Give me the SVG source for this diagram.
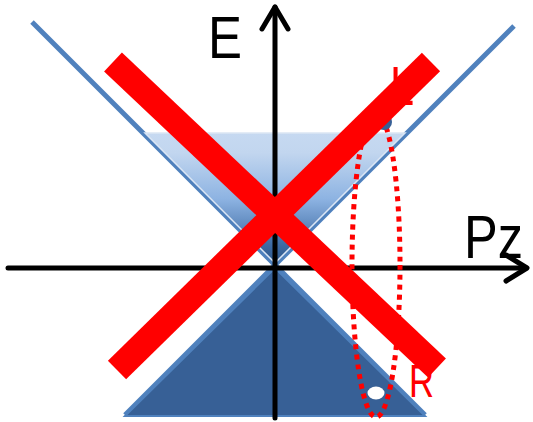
<svg xmlns="http://www.w3.org/2000/svg" width="533" height="422" viewBox="0 0 533 422">
<defs>
<linearGradient id="g" x1="0" y1="133" x2="0" y2="265" gradientUnits="userSpaceOnUse">
<stop offset="0" stop-color="#c6d9f1"/>
<stop offset="0.15" stop-color="#c2d6ef"/>
<stop offset="0.5" stop-color="#8db3e2"/>
<stop offset="0.85" stop-color="#3d6aa3"/>
<stop offset="1" stop-color="#2c5587"/>
</linearGradient>
</defs>
<style>
.cone{stroke:#4f81bd;stroke-width:5;fill:none}
.ax{stroke:#000;stroke-width:5;fill:none;stroke-linecap:round;stroke-linejoin:round}
.xr{stroke:#ff0000;stroke-width:26;fill:none}
.lbl{font-family:"Liberation Sans",Arial,sans-serif}
</style>
<g id="cone">
<line class="cone" x1="32" y1="22" x2="425" y2="415"/>
<line class="cone" x1="514" y1="26" x2="125" y2="415"/>
<polygon points="145,133 405,133 275,263" fill="url(#g)" stroke="#dbe6f4" stroke-width="1.5"/>
<polygon points="125,416 275,268 425,416" fill="#376096" stroke="#4f81bd" stroke-width="2"/>
</g>
<g id="axes">
<line class="ax" x1="8" y1="268" x2="526" y2="268"/>
<polyline class="ax" points="506,255 527,268 506,281"/>
<line class="ax" x1="275" y1="418" x2="275" y2="7"/>
<polyline class="ax" points="262,29 275,7 288,29"/>
</g>
<g id="particles">
<ellipse cx="376" cy="265" rx="24" ry="152" fill="none" stroke="#ff0000" stroke-width="5" stroke-dasharray="5 5"/>
<ellipse cx="376" cy="393" rx="8.5" ry="6.5" fill="#ffffff"/>
<circle cx="384" cy="122" r="8" fill="#376096"/>
</g>
<g id="labels">
<text class="lbl" x="208" y="58" font-size="60" textLength="34" lengthAdjust="spacingAndGlyphs">E</text>
<text class="lbl" x="464" y="258" font-size="62" textLength="59" lengthAdjust="spacingAndGlyphs">Pz</text>
<text class="lbl" x="409" y="397" font-size="47" fill="#ff0000" textLength="25" lengthAdjust="spacingAndGlyphs">R</text>
<text class="lbl" x="390" y="105" font-size="56" fill="#ff0000" textLength="24" lengthAdjust="spacingAndGlyphs">L</text>
</g>
<g id="cross">
<line class="xr" x1="113" y1="62" x2="437" y2="368"/>
<line class="xr" x1="431" y1="62" x2="117" y2="370"/>
</g>
</svg>
